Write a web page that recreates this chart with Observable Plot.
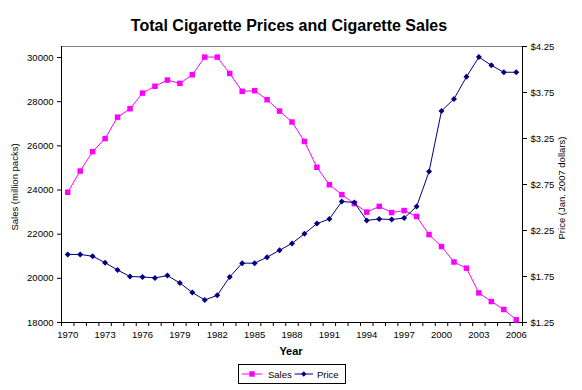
<!DOCTYPE html>
<html><head><meta charset="utf-8">
<script src="https://cdn.jsdelivr.net/npm/d3@7"></script>
<script src="https://cdn.jsdelivr.net/npm/@observablehq/plot@0.6"></script>
<style>body{margin:0;background:#fff} svg{font-family:Arial,"Liberation Sans",sans-serif}</style>
</head><body><div id="chart"></div>
<script>
const years = [1970,1971,1972,1973,1974,1975,1976,1977,1978,1979,1980,1981,1982,1983,1984,1985,1986,1987,1988,1989,1990,1991,1992,1993,1994,1995,1996,1997,1998,1999,2000,2001,2002,2003,2004,2005,2006];
const sales = [23900,24860,25740,26330,27300,27680,28390,28700,28980,28830,29220,30020,30020,29280,28470,28500,28090,27575,27080,26200,25030,24240,23790,23385,23000,23260,22980,23070,22800,21980,21440,20740,20460,19340,18950,18590,18120];
const price = [1.99,1.99,1.97,1.90,1.82,1.75,1.745,1.735,1.76,1.68,1.575,1.495,1.545,1.745,1.895,1.895,1.96,2.035,2.11,2.215,2.325,2.375,2.565,2.555,2.36,2.375,2.37,2.385,2.51,2.89,3.55,3.68,3.92,4.135,4.045,3.97,3.97];
const xTickLabels = [1970,1973,1976,1979,1982,1985,1988,1991,1994,1997,2000,2003,2006];
const salesTicks = [18000,20000,22000,24000,26000,28000,30000];
const priceTicks = [1.25,1.75,2.25,2.75,3.25,3.75,4.25];
const seriesNames = ["Sales","Price"];
const colors = ["#ff00ff","#000080"];

// map price onto the sales scale (secondary axis)
const pMin = 1.25, pMax = 4.25, sMin = 18000, sMax = 30500;
const toY = p => sMin + (p - pMin) / (pMax - pMin) * (sMax - sMin);
const fromY = v => pMin + (v - sMin) / (sMax - sMin) * (pMax - pMin);

const rows = years.map((yr, i) => ({year: yr, sales: sales[i], price: price[i]}));
const boundaries = years.map(y => y - 0.5).concat([years[years.length - 1] + 0.5]);

const chart = Plot.plot({
  width: 582, height: 390,
  marginTop: 46, marginBottom: 68, marginLeft: 61, marginRight: 60,
  style: {fontFamily: "Arial, 'Liberation Sans', sans-serif", fontSize: "9.5px", color: "#000", background: "#fff"},
  x: {type: "linear", domain: [1969.5, 2006.5]},
  y: {domain: [sMin, sMax]},
  marks: [
    Plot.ruleY([sMax], {stroke: "#808080"}),
    Plot.axisX({ticks: boundaries, tickSize: 4, tickFormat: () => "", label: null}),
    Plot.axisX({ticks: xTickLabels, tickSize: 0, tickPadding: 9, tickFormat: d => String(d), label: null}),
    Plot.axisY({ticks: salesTicks, tickSize: 4, tickPadding: 4, tickFormat: d => String(d), label: null}),
    Plot.axisY({anchor: "right", ticks: priceTicks.map(toY), tickSize: 4, tickPadding: 4,
      tickFormat: d => "$" + fromY(d).toFixed(2), label: null}),
    Plot.ruleX([1969.5, 2006.5], {stroke: "#000"}),
    Plot.ruleY([sMin], {stroke: "#000"}),
    Plot.line(rows, {x: "year", y: "sales", stroke: colors[0], strokeWidth: 1}),
    Plot.dot(rows, {x: "year", y: "sales", symbol: "square", r: 3.1, fill: colors[0]}),
    Plot.line(rows, {x: "year", y: d => toY(d.price), stroke: colors[1], strokeWidth: 1}),
    Plot.dot(rows, {x: "year", y: d => toY(d.price), symbol: "diamond2", r: 2.7, fill: colors[1]})
  ]
});
document.getElementById("chart").appendChild(chart);

const svg = d3.select(chart);
svg.append("text").attr("x", 289).attr("y", 31).attr("text-anchor", "middle")
  .attr("font-size", 16).attr("font-weight", "bold").attr("fill", "#000")
  .text("Total Cigarette Prices and Cigarette Sales");
svg.append("text").attr("transform", "translate(18,187) rotate(-90)").attr("text-anchor", "middle")
  .attr("font-size", 9.5).attr("fill", "#000").text("Sales (million packs)");
svg.append("text").attr("transform", "translate(565,188) rotate(-90)").attr("text-anchor", "middle")
  .attr("font-size", 9.5).attr("fill", "#000").text("Price (Jan. 2007 dollars)");
svg.append("text").attr("x", 291).attr("y", 355).attr("text-anchor", "middle")
  .attr("font-size", 11).attr("font-weight", "bold").attr("fill", "#000").text("Year");

// legend
const lg = svg.append("g");
lg.append("rect").attr("x", 238.5).attr("y", 364.5).attr("width", 107).attr("height", 19)
  .attr("fill", "#fff").attr("stroke", "#000");
const items = [
  {x0: 241.5, x1: 262.5, tx: 268, sym: d3.symbolSquare, size: 30},
  {x0: 294.5, x1: 313, tx: 317, sym: d3.symbolDiamond2, size: 18}
];
items.forEach((it, i) => {
  lg.append("line").attr("x1", it.x0).attr("x2", it.x1).attr("y1", 374).attr("y2", 374)
    .attr("stroke", colors[i]);
  lg.append("path").attr("d", d3.symbol(it.sym, it.size)())
    .attr("transform", `translate(${(it.x0 + it.x1) / 2},374)`).attr("fill", colors[i]);
  lg.append("text").attr("x", it.tx).attr("y", 377.5).attr("font-size", 9.5).attr("fill", "#000")
    .attr("text-anchor", "start").text(seriesNames[i]);
});
</script></body></html>
